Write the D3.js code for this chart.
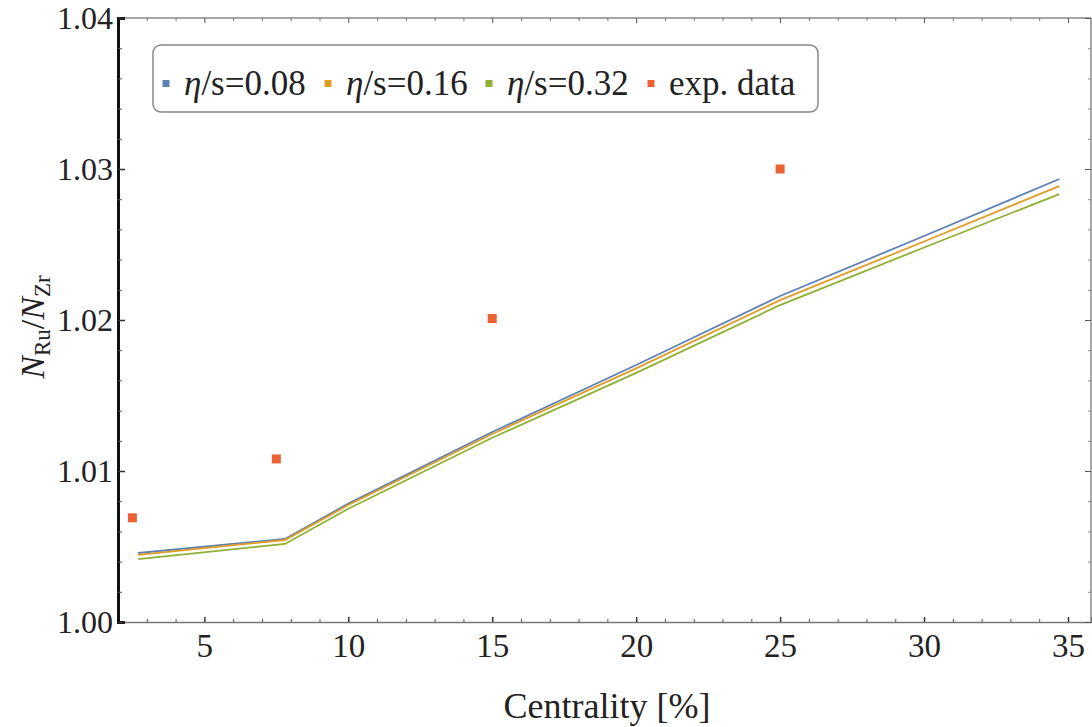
<!DOCTYPE html>
<html>
<head>
<meta charset="utf-8">
<script src="https://cdn.jsdelivr.net/npm/d3@7"></script>
<style>
  body { margin: 0; background: #fff; }
  text { font-family: "Liberation Serif", "DejaVu Serif", serif; fill: #222; }
</style>
</head>
<body>
<div id="chart"></div>
<script>
// model curves (centrality in %)
var centrality = [2.7, 7.8, 10, 15, 20, 25, 30, 34.7];
var ratioEta008 = [1.00457, 1.00550, 1.00784, 1.01258, 1.01702, 1.02159, 1.02556, 1.02934];
var ratioEta016 = [1.00444, 1.00543, 1.00775, 1.01245, 1.01680, 1.02132, 1.02520, 1.02887];
var ratioEta032 = [1.00417, 1.00517, 1.00750, 1.01220, 1.01650, 1.02099, 1.02480, 1.02834];
// experimental points
var expCentrality = [2.5, 7.5, 15, 25];
var expRatio = [1.0069, 1.0108, 1.0201, 1.0300];

var xTicks = [5, 10, 15, 20, 25, 30, 35];
var yTicks = [1.00, 1.01, 1.02, 1.03, 1.04];
var seriesLabels = ["0.08", "0.16", "0.32"];
var colors = ["#5e81b5", "#e19c24", "#8fb032", "#eb6235"];

var w = 1092, h = 727;
var pl = 118, pr = 1091, pt = 18, pb = 622;

var svg = d3.select("#chart").append("svg")
    .attr("width", w)
    .attr("height", h);

var x = d3.scaleLinear().domain([2, 35.8]).range([pl, pr]);
var y = d3.scaleLinear().domain([1.0, 1.04]).range([pb, pt]);

var xMinor = d3.range(3, 36, 1).filter(function (d) { return d % 5 !== 0; });
var yMinor = d3.range(1.002, 1.04, 0.002).filter(function (d) { return Math.abs(d * 100 - Math.round(d * 100)) > 1e-6; });

// frame: thin grey top and right
svg.append("line").attr("x1", pl).attr("x2", pr).attr("y1", pt).attr("y2", pt)
    .attr("stroke", "#888").attr("stroke-width", 1.5);
svg.append("line").attr("x1", pr).attr("x2", pr).attr("y1", pt).attr("y2", pb)
    .attr("stroke", "#888").attr("stroke-width", 1.5);

// bottom axis
var gx = svg.append("g").attr("transform", "translate(0," + pb + ")")
    .call(d3.axisBottom(x).tickValues(xTicks).tickSize(-5).tickPadding(24).tickFormat(d3.format("d")));
gx.select(".domain").attr("stroke", "#777").attr("stroke-width", 1.5);
gx.selectAll(".tick line").attr("stroke", "#333").attr("stroke-width", 1.5);
gx.selectAll(".tick text").style("font-size", "33px").attr("dy", "0.32em");
svg.append("g").attr("transform", "translate(0," + pb + ")")
    .call(d3.axisBottom(x).tickValues(xMinor).tickSize(-3).tickFormat(""))
    .call(function (g) { g.select(".domain").remove(); })
    .selectAll(".tick line").attr("stroke", "#555");

// top ticks
svg.append("g").attr("transform", "translate(0," + pt + ")")
    .call(d3.axisTop(x).tickValues(xTicks).tickSize(-5).tickFormat(""))
    .call(function (g) { g.select(".domain").remove(); })
    .selectAll(".tick line").attr("stroke", "#555");
svg.append("g").attr("transform", "translate(0," + pt + ")")
    .call(d3.axisTop(x).tickValues(xMinor).tickSize(-3).tickFormat(""))
    .call(function (g) { g.select(".domain").remove(); })
    .selectAll(".tick line").attr("stroke", "#777");

// right ticks
svg.append("g").attr("transform", "translate(" + pr + ",0)")
    .call(d3.axisRight(y).tickValues(yTicks).tickSize(-6).tickFormat(""))
    .call(function (g) { g.select(".domain").remove(); })
    .selectAll(".tick line").attr("stroke", "#555");
svg.append("g").attr("transform", "translate(" + pr + ",0)")
    .call(d3.axisRight(y).tickValues(yMinor).tickSize(-3).tickFormat(""))
    .call(function (g) { g.select(".domain").remove(); })
    .selectAll(".tick line").attr("stroke", "#888");

// left axis (thick black)
var gy = svg.append("g").attr("transform", "translate(" + pl + ",0)")
    .call(d3.axisLeft(y).tickValues(yTicks).tickSize(-7).tickPadding(7).tickFormat(d3.format(".2f")));
gy.select(".domain").attr("stroke", "#111").attr("stroke-width", 3);
gy.selectAll(".tick line").attr("stroke", "#333").attr("stroke-width", 1.5);
gy.selectAll(".tick text").style("font-size", "32px").attr("x", -5).attr("dy", "0.32em");
svg.append("g").attr("transform", "translate(" + pl + ",0)")
    .call(d3.axisLeft(y).tickValues(yMinor).tickSize(-4).tickFormat(""))
    .call(function (g) { g.select(".domain").remove(); })
    .selectAll(".tick line").attr("stroke", "#555");

// model lines
var line = d3.line()
    .x(function (d) { return x(d[0]); })
    .y(function (d) { return y(d[1]); });

[ratioEta008, ratioEta016, ratioEta032].forEach(function (vals, i) {
    svg.append("path")
        .datum(d3.zip(centrality, vals))
        .attr("d", line)
        .attr("fill", "none")
        .attr("stroke", colors[i])
        .attr("stroke-width", 1.8);
});

// experimental data
svg.selectAll("rect.exp").data(d3.zip(expCentrality, expRatio)).enter()
    .append("rect")
    .attr("class", "exp")
    .attr("x", function (d) { return x(d[0]) - 4.5; })
    .attr("y", function (d) { return y(d[1]) - 4.5; })
    .attr("width", 9)
    .attr("height", 9)
    .attr("fill", colors[3]);

// axis titles
svg.append("text")
    .attr("x", 607)
    .attr("y", 718)
    .attr("text-anchor", "middle")
    .style("font-size", "36px")
    .text("Centrality [%]");

var yl = svg.append("text")
    .attr("transform", "translate(44,327) rotate(-90)")
    .attr("text-anchor", "middle")
    .style("font-size", "34px");
yl.append("tspan").style("font-style", "italic").text("N");
yl.append("tspan").attr("dy", 6).style("font-size", "23px").text("Ru");
yl.append("tspan").attr("dy", -6).text("/");
yl.append("tspan").style("font-style", "italic").text("N");
yl.append("tspan").attr("dy", 6).style("font-size", "23px").text("Zr");

// legend
var legend = svg.append("g");
legend.append("rect")
    .attr("x", 153).attr("y", 45)
    .attr("width", 665).attr("height", 67)
    .attr("rx", 8)
    .attr("fill", "#fff")
    .attr("stroke", "#888")
    .attr("stroke-width", 1.5);

var legendX = [166, 328, 489, 651];
legendX.forEach(function (lx, i) {
    legend.append("rect")
        .attr("x", lx - 3.5).attr("y", 80)
        .attr("width", 7).attr("height", 7)
        .attr("fill", colors[i]);
    var t = legend.append("text")
        .attr("x", lx + 18)
        .attr("y", 95)
        .style("font-size", "35px");
    if (i < 3) {
        t.append("tspan").style("font-style", "italic").text("η");
        t.append("tspan").text("/s=" + seriesLabels[i]);
    } else {
        t.text("exp. data");
    }
});
</script>
</body>
</html>
